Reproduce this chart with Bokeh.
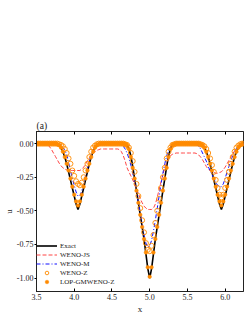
from bokeh.plotting import figure
from bokeh.models import Range1d, FixedTicker, Legend, LegendItem, LinearAxis, CustomJSTickFormatter
from bokeh.embed import file_html
from bokeh.resources import INLINE

x = [3.5, 3.525, 3.55, 3.575, 3.6, 3.625, 3.65, 3.675, 3.7, 3.725,
     3.75, 3.775, 3.8, 3.825, 3.85, 3.875, 3.9, 3.925, 3.95, 3.975,
     4.0, 4.025, 4.05, 4.075, 4.1, 4.125, 4.15, 4.175, 4.2, 4.225,
     4.25, 4.275, 4.3, 4.325, 4.35, 4.375, 4.4, 4.425, 4.45, 4.475,
     4.5, 4.525, 4.55, 4.575, 4.6, 4.625, 4.65, 4.675, 4.7, 4.725,
     4.75, 4.775, 4.8, 4.825, 4.85, 4.875, 4.9, 4.925, 4.95, 4.975,
     5.0, 5.025, 5.05, 5.075, 5.1, 5.125, 5.15, 5.175, 5.2, 5.225,
     5.25, 5.275, 5.3, 5.325, 5.35, 5.375, 5.4, 5.425, 5.45, 5.475,
     5.5, 5.525, 5.55, 5.575, 5.6, 5.625, 5.65, 5.675, 5.7, 5.725,
     5.75, 5.775, 5.8, 5.825, 5.85, 5.875, 5.9, 5.925, 5.95, 5.975,
     6.0, 6.025, 6.05, 6.075, 6.1, 6.125, 6.15, 6.175, 6.2, 6.225,
     6.25]

exact = [0, 0, 0, 0, 0, 0, 0, 0, 0, 0,
         0, 0, -0.01, -0.03, -0.06, -0.10, -0.15, -0.21, -0.27, -0.33,
         -0.39, -0.45, -0.49, -0.45, -0.39, -0.33, -0.27, -0.21, -0.15, -0.10,
         -0.06, -0.03, -0.01, 0, 0, 0, 0, 0, 0, 0,
         0, 0, 0, 0, 0, 0, 0, 0, -0.01, -0.04,
         -0.09, -0.17, -0.26, -0.35, -0.44, -0.53, -0.62, -0.71, -0.82, -0.93,
         -1.00, -0.93, -0.82, -0.71, -0.62, -0.53, -0.44, -0.35, -0.26, -0.17,
         -0.09, -0.04, -0.01, 0, 0, 0, 0, 0, 0, 0,
         0, 0, 0, 0, 0, 0, 0, 0, -0.01, -0.03,
         -0.06, -0.10, -0.15, -0.21, -0.27, -0.33, -0.39, -0.45, -0.49, -0.45,
         -0.39, -0.33, -0.27, -0.21, -0.15, -0.10, -0.06, -0.03, -0.01, 0,
         0]

weno_js = [0, 0, 0, 0, 0, -0.005, -0.01, -0.025, -0.045, -0.07,
           -0.095, -0.12, -0.145, -0.165, -0.18, -0.19, -0.195, -0.2, -0.2, -0.2,
           -0.2, -0.2, -0.2, -0.2, -0.19, -0.175, -0.155, -0.13, -0.105, -0.085,
           -0.07, -0.06, -0.05, -0.045, -0.04, -0.04, -0.04, -0.04, -0.04, -0.04,
           -0.04, -0.04, -0.04, -0.04, -0.045, -0.06, -0.09, -0.13, -0.18, -0.21,
           -0.24, -0.27, -0.30, -0.34, -0.37, -0.41, -0.44, -0.465, -0.48, -0.49,
           -0.49, -0.49, -0.48, -0.45, -0.40, -0.34, -0.285, -0.23, -0.18, -0.14,
           -0.11, -0.09, -0.08, -0.075, -0.07, -0.07, -0.07, -0.07, -0.07, -0.07,
           -0.07, -0.07, -0.07, -0.07, -0.07, -0.075, -0.085, -0.10, -0.12, -0.145,
           -0.17, -0.19, -0.20, -0.21, -0.215, -0.22, -0.22, -0.215, -0.21, -0.195,
           -0.175, -0.15, -0.125, -0.10, -0.075, -0.055, -0.04, -0.03, -0.02, -0.012,
           -0.008]

weno_m = [0, 0, 0, 0, 0, 0, 0, 0, 0, 0,
          0, 0, -0.005, -0.01, -0.03, -0.05, -0.08, -0.14, -0.20, -0.26,
          -0.31, -0.36, -0.39, -0.39, -0.35, -0.30, -0.24, -0.18, -0.13, -0.08,
          -0.05, -0.03, -0.015, -0.01, -0.005, 0, 0, 0, 0, 0,
          0, 0, 0, 0, -0.005, -0.01, -0.02, -0.04, -0.07, -0.11,
          -0.16, -0.22, -0.29, -0.36, -0.44, -0.52, -0.60, -0.68, -0.74, -0.77,
          -0.76, -0.72, -0.65, -0.57, -0.48, -0.39, -0.30, -0.22, -0.15, -0.09,
          -0.05, -0.025, -0.01, -0.005, 0, 0, 0, 0, 0, 0,
          0, 0, 0, 0, -0.005, -0.01, -0.02, -0.04, -0.07, -0.10,
          -0.13, -0.17, -0.20, -0.23, -0.26, -0.29, -0.31, -0.32, -0.32, -0.30,
          -0.26, -0.21, -0.17, -0.13, -0.09, -0.06, -0.035, -0.02, -0.01, -0.005,
          0]

weno_z = [0, 0, 0, 0, 0, 0, 0, 0, 0, 0,
          0, 0, -0.005, -0.01, -0.02, -0.04, -0.07, -0.11, -0.15, -0.20,
          -0.24, -0.28, -0.30, -0.31, -0.29, -0.25, -0.20, -0.15, -0.10, -0.06,
          -0.03, -0.015, -0.005, 0, 0, 0, 0, 0, 0, 0,
          0, 0, 0, 0, 0, 0, 0, -0.005, -0.01, -0.03,
          -0.07, -0.13, -0.21, -0.30, -0.39, -0.48, -0.57, -0.66, -0.74, -0.79,
          -0.80, -0.76, -0.68, -0.59, -0.50, -0.41, -0.33, -0.25, -0.18, -0.11,
          -0.06, -0.03, -0.01, -0.005, 0, 0, 0, 0, 0, 0,
          0, 0, 0, 0, 0, 0, 0, -0.005, -0.01, -0.02,
          -0.04, -0.07, -0.11, -0.16, -0.21, -0.27, -0.33, -0.38, -0.40, -0.38,
          -0.33, -0.27, -0.21, -0.15, -0.10, -0.06, -0.03, -0.015, -0.005, 0,
          0]

lop = [0, 0, 0, 0, 0, 0, 0, 0, 0, 0,
       0, -0.005, -0.01, -0.03, -0.06, -0.10, -0.15, -0.20, -0.26, -0.32,
       -0.38, -0.43, -0.46, -0.43, -0.38, -0.32, -0.26, -0.20, -0.15, -0.10,
       -0.06, -0.03, -0.01, -0.005, 0, 0, 0, 0, 0, 0,
       0, 0, 0, 0, 0, 0, 0, -0.005, -0.01, -0.04,
       -0.10, -0.18, -0.26, -0.35, -0.44, -0.53, -0.62, -0.71, -0.81, -0.92,
       -0.99, -0.92, -0.81, -0.71, -0.62, -0.53, -0.44, -0.35, -0.26, -0.18,
       -0.10, -0.04, -0.01, -0.005, 0, 0, 0, 0, 0, 0,
       0, 0, 0, 0, 0, 0, 0, -0.005, -0.01, -0.03,
       -0.06, -0.10, -0.15, -0.20, -0.26, -0.32, -0.38, -0.43, -0.46, -0.43,
       -0.38, -0.32, -0.26, -0.20, -0.15, -0.10, -0.06, -0.03, -0.01, -0.005,
       0]

x_ticks = [3.5, 4.0, 4.5, 5.0, 5.5, 6.0]
y_ticks = [-1.0, -0.75, -0.5, -0.25, 0.0]
series_names = ["Exact", "WENO-JS", "WENO-M", "WENO-Z", "LOP-GMWENO-Z"]

FONT = "Liberation Serif"
ORANGE = "#ff8a00"
INK = "#222222"

p = figure(width=244, height=316, output_backend="svg", toolbar_location=None,
           x_range=Range1d(3.5, 6.243), y_range=Range1d(-1.1, 0.09),
           min_border_left=31, min_border_right=1, min_border_top=131, min_border_bottom=24,
           x_axis_label="x", y_axis_label="u", title="(a)")
p.background_fill_color = "white"
p.border_fill_color = "white"
p.outline_line_color = INK
p.outline_line_width = 1
p.xgrid.visible = False
p.ygrid.visible = False

p.title.text_font = FONT
p.title.text_font_size = "9.5px"
p.title.text_font_style = "normal"
p.title.text_color = INK
p.title.align = "left"
p.title.standoff = 2
p.title.offset = 0

r_exact = p.line(x, exact, line_color="black", line_width=1.6)
r_js = p.line(x, weno_js, line_color="#ff4545", line_width=1, line_dash="4 2")
r_m = p.line(x, weno_m, line_color="#1010ff", line_width=1, line_dash="4 2 1 2")
r_z = p.scatter(x, weno_z, marker="circle", size=5, fill_color=None,
                line_color=ORANGE, line_width=0.9)
r_lop = p.scatter(x, lop, marker="circle", size=3.6, fill_color=ORANGE,
                  line_color=ORANGE, line_width=0.5)

xa = p.xaxis[0]
xa.ticker = FixedTicker(ticks=x_ticks)
xa.formatter = CustomJSTickFormatter(code="return tick.toFixed(1);")
xa.major_tick_in = 3
xa.major_tick_out = 0
xa.minor_tick_line_color = None
xa.major_label_standoff = 2
xa.major_label_text_font = FONT
xa.major_label_text_font_size = "8px"
xa.major_label_text_color = INK
xa.axis_line_color = INK
xa.axis_label_standoff = 1
xa.axis_label_text_font = FONT
xa.axis_label_text_font_size = "9px"
xa.axis_label_text_font_style = "normal"
xa.axis_label_text_color = INK

ya = p.yaxis[0]
ya.ticker = FixedTicker(ticks=y_ticks)
ya.formatter = CustomJSTickFormatter(code="return tick.toFixed(2);")
ya.major_tick_in = 0
ya.major_tick_out = 2
ya.minor_tick_line_color = None
ya.major_label_standoff = 1
ya.major_label_text_font = FONT
ya.major_label_text_font_size = "8px"
ya.major_label_text_color = INK
ya.axis_line_color = INK
ya.axis_label_standoff = 0
ya.axis_label_text_font = FONT
ya.axis_label_text_font_size = "9px"
ya.axis_label_text_font_style = "normal"
ya.axis_label_text_color = INK

top = LinearAxis(ticker=FixedTicker(ticks=x_ticks), major_tick_in=3, major_tick_out=0,
                 minor_tick_line_color=None, major_label_text_color=None,
                 major_label_standoff=0, axis_line_color=INK,
                 major_label_text_font_size="1px")
p.add_layout(top, "above")

legend = Legend(items=[LegendItem(label=series_names[0], renderers=[r_exact]),
                       LegendItem(label=series_names[1], renderers=[r_js]),
                       LegendItem(label=series_names[2], renderers=[r_m]),
                       LegendItem(label=series_names[3], renderers=[r_z]),
                       LegendItem(label=series_names[4], renderers=[r_lop])],
                location=(0, 5), padding=0, margin=0, spacing=0,
                border_line_color=None, background_fill_alpha=0,
                label_text_font=FONT, label_text_font_size="7px",
                label_text_color=INK,
                glyph_width=21, glyph_height=9, label_height=9, label_standoff=3)
p.add_layout(legend)

open("out.html", "w").write(file_html(p, INLINE))
